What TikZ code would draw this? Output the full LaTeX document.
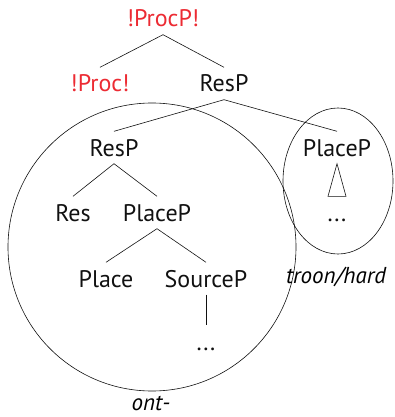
\documentclass[tikz,border=0pt]{standalone}
\usepackage{fontspec}
\setmainfont{PT Sans}
\usetikzlibrary{positioning}
\definecolor{bang}{HTML}{EC2B33}
\definecolor{ink}{HTML}{111111}

\begin{document}
\begin{tikzpicture}[
  x=1pt, y=-1pt,
  font=\fontsize{24}{28}\selectfont,
  cat/.style={anchor=base, inner xsep=0pt, inner ysep=7.5pt,
              text height=17pt, text depth=0pt, text=ink},
  hot/.style={cat, text=bang},
  gloss/.style={anchor=base, inner sep=0pt, font=\fontsize{23}{27}\selectfont\itshape},
  br/.style={line width=0.6pt, draw=ink},
  zone/.style={draw=ink, line width=0.6pt},
]
\useasboundingbox (0,0) rectangle (395,417);

% ---------------- top of the tree ----------------
\node[hot] (procp) at (163, 27) {!ProcP!};
\node[hot] (proc)  at (100, 92) {!Proc!};
\node[cat] (resp)  at (224, 92) {ResP};

\draw[br] (procp.south) -- (proc.north);
\draw[br] (procp.south) -- (resp.north);

% ---------------- left part: ont- ----------------
\node[cat] (resp2)   at (114, 156) {ResP};
\node[cat] (res)     at (73, 221)  {Res};
\node[cat] (placep)  at (157, 221) {PlaceP};
\node[cat] (place)   at (106, 287) {Place};
\node[cat] (sourcep) at (206, 287) {SourceP};
\node[cat] (sdots)   at (206, 350) {...};

\draw[br] (resp.south) -- (resp2.north);
\draw[br] (resp2.south) -- (res.north);
\draw[br] (resp2.south) -- (placep.north);
\draw[br] (placep.south) -- (place.north);
\draw[br] (placep.south) -- (sourcep.north);
\draw[br] (sourcep.south) -- (sdots.north);

% ---------------- right part: troon/hard ----------------
\node[cat] (placep2) at (337, 156) {PlaceP};
\node[cat] (pdots)   at (337, 221) {...};

\draw[br] (resp.south) -- (placep2.north);
\draw[br] (placep2.south) -- ([xshift=-9pt]pdots.north)
  -- ([xshift=9pt]pdots.north) -- cycle;

% the two spell-out domains
\draw[zone] (152, 247) circle[radius=144];
\draw[zone] (338, 181) ellipse[x radius=55, y radius=73];

\node[gloss] (ont)   at (151, 410) {ont-};
\node[gloss] (troon) at (336, 283) {troon/hard};

\end{tikzpicture}
\end{document}
